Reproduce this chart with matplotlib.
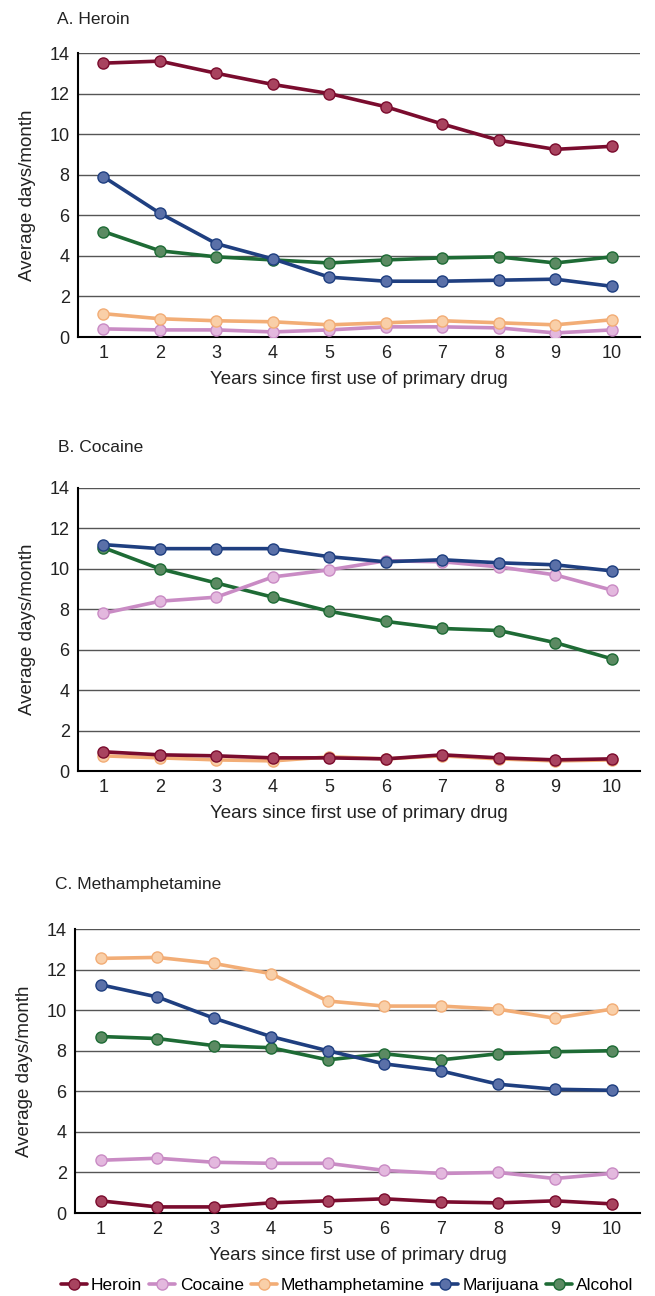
import matplotlib.pyplot as plt
import numpy as np

plt.rcParams['font.family'] = ['Liberation Sans', 'DejaVu Sans']

years = list(range(1, 11))
drugs = ['Heroin', 'Cocaine', 'Methamphetamine', 'Marijuana', 'Alcohol']
line_colors = ['#7a0c2e', '#c98bc4', '#f2ad76', '#1f3f80', '#1e6b35']
face_colors = ['#a8435f', '#e3b8de', '#f9cfa8', '#5a70a8', '#5b8a62']

# panel A: primary drug heroin
heroin_panel = {
    'Heroin': [13.5, 13.6, 13.0, 12.45, 12.0, 11.35, 10.5, 9.7, 9.25, 9.4],
    'Cocaine': [0.4, 0.35, 0.35, 0.25, 0.35, 0.5, 0.5, 0.45, 0.2, 0.35],
    'Methamphetamine': [1.15, 0.9, 0.8, 0.75, 0.6, 0.7, 0.8, 0.7, 0.6, 0.85],
    'Marijuana': [7.9, 6.1, 4.6, 3.85, 2.95, 2.75, 2.75, 2.8, 2.85, 2.5],
    'Alcohol': [5.2, 4.25, 3.95, 3.8, 3.65, 3.8, 3.9, 3.95, 3.65, 3.95],
}
# panel B: primary drug cocaine
cocaine_panel = {
    'Heroin': [0.95, 0.8, 0.75, 0.65, 0.65, 0.6, 0.8, 0.65, 0.55, 0.6],
    'Cocaine': [7.8, 8.4, 8.6, 9.6, 9.95, 10.4, 10.35, 10.1, 9.7, 8.95],
    'Methamphetamine': [0.75, 0.65, 0.55, 0.5, 0.7, 0.6, 0.75, 0.6, 0.5, 0.55],
    'Marijuana': [11.2, 11.0, 11.0, 11.0, 10.6, 10.35, 10.45, 10.3, 10.2, 9.9],
    'Alcohol': [11.05, 10.0, 9.3, 8.6, 7.9, 7.4, 7.05, 6.95, 6.35, 5.55],
}
# panel C: primary drug methamphetamine
meth_panel = {
    'Heroin': [0.6, 0.3, 0.3, 0.5, 0.6, 0.7, 0.55, 0.5, 0.6, 0.45],
    'Cocaine': [2.6, 2.7, 2.5, 2.45, 2.45, 2.1, 1.95, 2.0, 1.7, 1.95],
    'Methamphetamine': [12.55, 12.6, 12.3, 11.8, 10.45, 10.2, 10.2, 10.05, 9.6, 10.05],
    'Marijuana': [11.25, 10.65, 9.6, 8.7, 8.0, 7.35, 7.0, 6.35, 6.1, 6.05],
    'Alcohol': [8.7, 8.6, 8.25, 8.15, 7.55, 7.85, 7.55, 7.85, 7.95, 8.0],
}

panels = [
    ('A. Heroin', heroin_panel, ['Cocaine', 'Methamphetamine', 'Alcohol', 'Marijuana', 'Heroin']),
    ('B. Cocaine', cocaine_panel, ['Methamphetamine', 'Heroin', 'Alcohol', 'Cocaine', 'Marijuana']),
    ('C. Methamphetamine', meth_panel, ['Heroin', 'Cocaine', 'Alcohol', 'Marijuana', 'Methamphetamine']),
]

fig = plt.figure(figsize=(6.55, 12.96), dpi=100)
W, H = 655, 1296
# (left, y of 14, y of 0) in pixels
boxes = [(78, 53, 337), (78, 488, 771), (75, 929, 1213)]
title_pos = [(57, 20), (58, 447), (55, 885)]

handles = {}
for (title, data, order), (lx, ytop, ybot), (tx, ty) in zip(panels, boxes, title_pos):
    ax = fig.add_axes([lx / W, 1 - ybot / H, (640 - lx) / W, (ybot - ytop) / H])
    for name in order:
        i = drugs.index(name)
        h, = ax.plot(years, data[name], color=line_colors[i], lw=2.6,
                     marker='o', ms=8, mfc=face_colors[i], mec=line_colors[i],
                     mew=1.0, solid_capstyle='round', zorder=3)
        handles[name] = h
    ax.set_ylim(0, 14)
    ax.set_xlim(0.55, 10.5)
    ax.set_yticks(range(0, 15, 2))
    ax.set_xticks(years)
    ax.grid(axis='y', color='#555555', lw=1.0)
    ax.set_axisbelow(True)
    for s in ['top', 'right']:
        ax.spines[s].set_visible(False)
    ax.spines['left'].set_linewidth(1.5)
    ax.spines['bottom'].set_linewidth(1.5)
    ax.tick_params(length=0, labelsize=13, pad=6, colors='#222222')
    ax.set_ylabel('Average days/month', fontsize=13.5, color='#222222', labelpad=10)
    ax.set_xlabel('Years since first use of primary drug', fontsize=13.5,
                  color='#222222', labelpad=6)
    fig.text(tx / W, 1 - ty / H, title, fontsize=12.5, va='center', color='#222222')

fig.legend([handles[d] for d in drugs], drugs, loc='center',
           bbox_to_anchor=(0.53, 1 - 1285 / H), ncol=5, frameon=False,
           fontsize=12.5, handlelength=1.5, handletextpad=0.25, columnspacing=0.4,
           borderpad=0.1)

fig.savefig('out.png', dpi=100)
